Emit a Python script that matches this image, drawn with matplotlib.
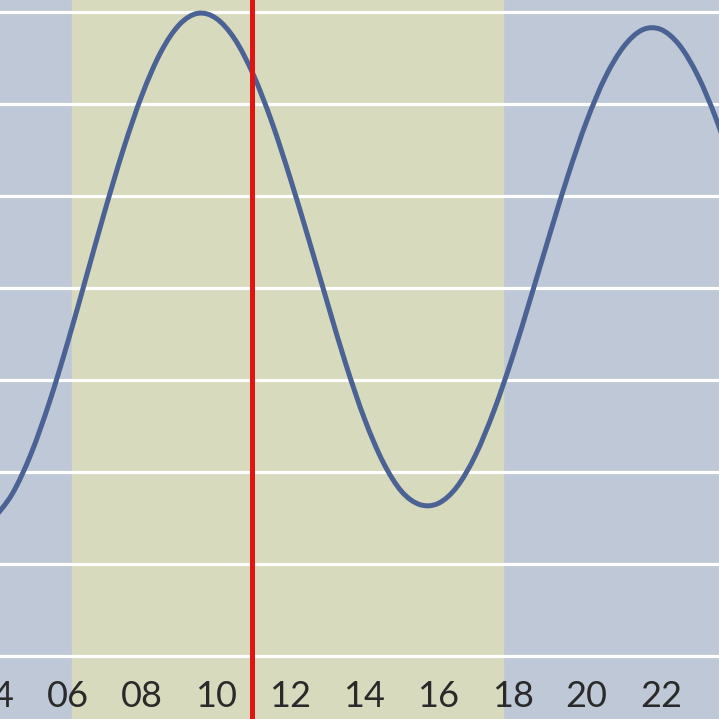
import numpy as np
import matplotlib
matplotlib.use("Agg")
import matplotlib.pyplot as plt
from matplotlib.path import Path
from matplotlib.patches import PathPatch

plt.rcParams['font.family'] = ['Lato', 'DejaVu Sans']

# tide level (cm), read every half hour
hours = [4.0, 4.5, 5.0, 5.5, 6.0, 6.5, 7.0, 7.5, 8.0, 8.5, 9.0, 9.5,
         10.0, 10.5, 11.0, 11.5, 12.0, 12.5, 13.0, 13.5, 14.0, 14.5,
         15.0, 15.5, 16.0, 16.5, 17.0, 17.5, 18.0, 18.5, 19.0, 19.5,
         20.0, 20.5, 21.0, 21.5, 22.0, 22.5, 23.0, 23.5, 24.0]
level = [29.9, 35.3, 43.9, 55.2, 68.4, 82.6, 96.9, 110.3, 122.0, 131.2, 137.2, 139.7,
         138.6, 134.1, 126.4, 116.1, 103.8, 90.5, 76.8, 63.4, 51.6, 42.2,
         35.8, 32.9, 33.2, 36.8, 43.7, 53.4, 65.1, 78.2, 91.6, 104.6,
         116.3, 125.8, 132.5, 136.1, 136.2, 132.8, 126.1, 116.6, 104.9]

tick_hours = [4, 6, 8, 10, 12, 14, 16, 18, 20, 22]
tick_labels = ['04', '06', '08', '10', '12', '14', '16', '18', '20', '22']
grid_levels = [0, 20, 40, 60, 80, 100, 120, 140]

sunrise, sunset = 6.11, 17.74
now = 10.97


def smooth_path(xs, ys):
    # Catmull-Rom through the points, drawn as cubic bezier segments
    xs = np.asarray(xs, float)
    ys = np.asarray(ys, float)
    verts = [(xs[0], ys[0])]
    codes = [Path.MOVETO]
    n = len(xs)
    for i in range(n - 1):
        i0, i3 = max(i - 1, 0), min(i + 2, n - 1)
        c1 = (xs[i] + (xs[i + 1] - xs[i0]) / 6, ys[i] + (ys[i + 1] - ys[i0]) / 6)
        c2 = (xs[i + 1] - (xs[i3] - xs[i]) / 6, ys[i + 1] - (ys[i3] - ys[i]) / 6)
        verts += [c1, c2, (xs[i + 1], ys[i + 1])]
        codes += [Path.CURVE4] * 3
    return Path(verts, codes)


fig = plt.figure(figsize=(7.19, 7.19), dpi=100)
ax = fig.add_axes([0, 0, 1, 1])
ax.set_xlim(4.165, 23.57)
ax.set_ylim(-13.7, 142.6)
ax.set_facecolor('#bec8d6')
for s in ax.spines.values():
    s.set_visible(False)
ax.set_xticks([])
ax.set_yticks([])

ax.axvspan(sunrise, sunset, color='#d8dabd', zorder=0)
for g in grid_levels:
    ax.axhline(g, color='white', lw=2.3, zorder=1)

ax.add_patch(PathPatch(smooth_path(hours, level), facecolor='none',
                       edgecolor='#4a6294', lw=3.6, zorder=3,
                       capstyle='round', joinstyle='round'))

ax.axvline(now, color='#e21412', lw=3.6, zorder=4)

for h, lab in zip(tick_hours, tick_labels):
    ax.text(h, -8.9, lab, ha='center', va='center', fontsize=26,
            fontweight='normal', color='#2a2a2a', zorder=5)

fig.savefig('out.png', dpi=100)
